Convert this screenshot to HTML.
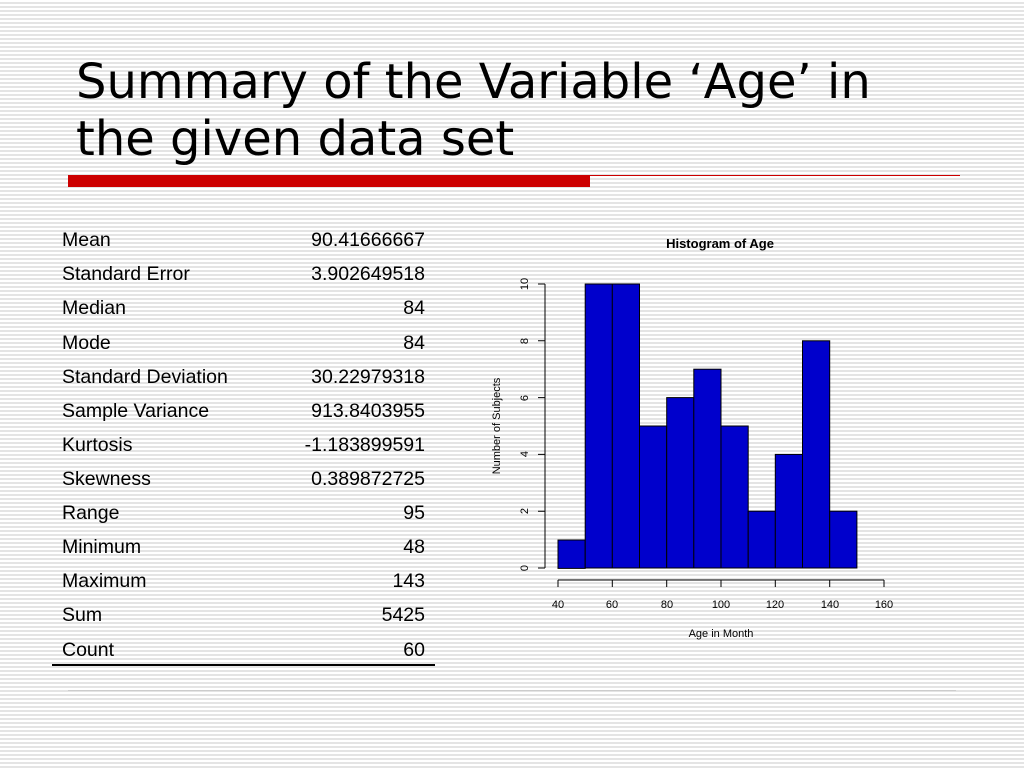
<!DOCTYPE html>
<html><head><style>
body{margin:0;width:1024px;height:768px;overflow:hidden;font-family:"Liberation Sans",sans-serif;
background:repeating-linear-gradient(to bottom,#fff 0,#fff 2px,#e4e4e4 2px,#e4e4e4 4px);position:relative}
h1{position:absolute;left:76px;top:54px;margin:0;font-weight:normal;font-size:48px;line-height:57px;color:#000;font-family:"DejaVu Sans",sans-serif;white-space:nowrap}
.row{position:absolute;left:62px;width:363px;font-size:19.5px;color:#000}
.row span{position:absolute;right:0}
</style></head><body>
<h1>Summary of the Variable ‘Age’ in<br>the given data set</h1>
<div style="position:absolute;left:68px;top:175px;width:522px;height:12px;background:#cc0000"></div>
<div style="position:absolute;left:590px;top:175px;width:370px;height:1px;background:#cc0000"></div>
<div class="row" style="top:229px">Mean<span>90.41666667</span></div>
<div class="row" style="top:263px">Standard Error<span>3.902649518</span></div>
<div class="row" style="top:297px">Median<span>84</span></div>
<div class="row" style="top:332px">Mode<span>84</span></div>
<div class="row" style="top:366px">Standard Deviation<span>30.22979318</span></div>
<div class="row" style="top:400px">Sample Variance<span>913.8403955</span></div>
<div class="row" style="top:434px">Kurtosis<span>-1.183899591</span></div>
<div class="row" style="top:468px">Skewness<span>0.389872725</span></div>
<div class="row" style="top:502px">Range<span>95</span></div>
<div class="row" style="top:536px">Minimum<span>48</span></div>
<div class="row" style="top:570px">Maximum<span>143</span></div>
<div class="row" style="top:604px">Sum<span>5425</span></div>
<div class="row" style="top:639px">Count<span>60</span></div>
<div style="position:absolute;left:52px;top:664px;width:383px;height:2px;background:#000"></div>
<div style="position:absolute;left:68px;top:690px;width:888px;height:1px;background:#ccc"></div>
<svg width="1024" height="768" style="position:absolute;left:0;top:0" font-family="Liberation Sans,sans-serif">
<text x="720" y="248" font-size="13" font-weight="bold" text-anchor="middle">Histogram of Age</text>
<g fill="#0000cc" stroke="#000" stroke-width="1">
<rect x="558" y="540" width="27.2" height="28.4"/>
<rect x="585.2" y="284" width="27.2" height="284"/>
<rect x="612.3" y="284" width="27.2" height="284"/>
<rect x="639.5" y="426" width="27.2" height="142"/>
<rect x="666.7" y="397.6" width="27.2" height="170.4"/>
<rect x="693.8" y="369.2" width="27.2" height="198.8"/>
<rect x="721" y="426" width="27.2" height="142"/>
<rect x="748.2" y="511.2" width="27.2" height="56.8"/>
<rect x="775.3" y="454.4" width="27.2" height="113.6"/>
<rect x="802.5" y="340.8" width="27.2" height="227.2"/>
<rect x="829.7" y="511.2" width="27.2" height="56.8"/>
</g>
<g stroke="#000" fill="none">
<path d="M545 568V284M545 568h-7M545 511.2h-7M545 454.4h-7M545 397.6h-7M545 340.8h-7M545 284h-7"/>
<path d="M558 580H884M558 580v7M612.3 580v7M666.7 580v7M721 580v7M775.3 580v7M829.7 580v7M884 580v7"/>
</g>
<g font-size="11" text-anchor="middle">
<text x="558" y="608">40</text><text x="612" y="608">60</text><text x="667" y="608">80</text><text x="721" y="608">100</text><text x="775" y="608">120</text><text x="830" y="608">140</text><text x="884" y="608">160</text>
<text x="721" y="637">Age in Month</text>
<text transform="translate(528,568) rotate(-90)">0</text>
<text transform="translate(528,511) rotate(-90)">2</text>
<text transform="translate(528,454) rotate(-90)">4</text>
<text transform="translate(528,398) rotate(-90)">6</text>
<text transform="translate(528,341) rotate(-90)">8</text>
<text transform="translate(528,284) rotate(-90)">10</text>
<text transform="translate(500,426) rotate(-90)">Number of Subjects</text>
</g>
</svg>
</body></html>
